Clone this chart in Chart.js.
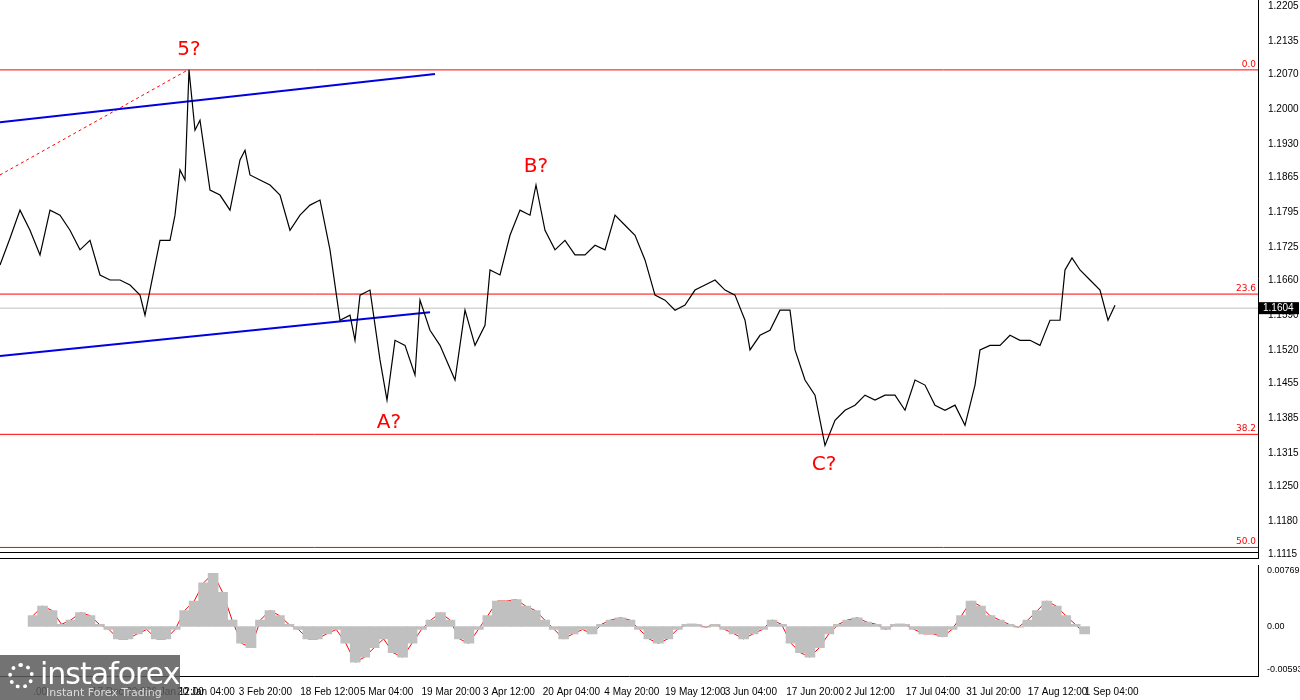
<!DOCTYPE html>
<html>
<head>
<meta charset="utf-8">
<script src="https://cdn.jsdelivr.net/npm/chart.js@4.4.1/dist/chart.umd.min.js"></script>
<style>
  body { margin: 0; background: #fff; width: 1300px; height: 700px; overflow: hidden; position: relative; font-family: "DejaVu Sans", sans-serif; }
  #main { position: absolute; left: 0; top: -10px; }
  #osc { position: absolute; left: 0; top: 559px; }
  .sep { position: absolute; left: 0; width: 1258px; height: 1px; background: #000; }
  .logo { position: absolute; left: 0; top: 655px; width: 180px; height: 45px; background: rgba(90,90,90,0.85); color: #fff; }
  .logo .t1 { position: absolute; left: 40px; top: 1px; font: 30px "DejaVu Sans", sans-serif; letter-spacing: -1px; }
  .logo .t2 { position: absolute; left: 46px; top: 31px; font: 11px "DejaVu Sans", sans-serif; color: #ddd; }
  .logo .gear { position: absolute; left: 8px; top: 8px; width: 26px; height: 26px; border: 4px dotted #fff; border-radius: 50%; box-sizing: border-box; }
</style>
</head>
<body>
<canvas id="main" width="1300" height="576"></canvas>
<canvas id="osc" width="1300" height="141"></canvas>
<div class="sep" style="top:552px"></div>
<div class="sep" style="top:558px"></div>
<div class="logo"><div class="gear"></div><div class="t1">instaforex</div><div class="t2">Instant Forex Trading</div></div>
<script>
// bar index (roughly one unit per screen column) and close prices
const barIdx = [0,10,20,30,40,50,60,70,80,90,100,110,120,130,140,145,150,160,170,175,180,185,189,195,200,210,220,230,240,245,250,260,270,280,290,300,310,320,330,340,350,355,360,370,380,387,395,405,415,420,430,440,455,465,475,485,490,500,510,520,530,536,545,555,565,575,585,595,605,615,625,635,645,655,665,675,685,695,705,715,725,735,745,750,760,770,780,790,795,805,815,825,835,845,855,865,875,885,895,905,915,925,935,945,955,965,975,980,990,1000,1010,1020,1030,1040,1050,1060,1065,1072,1080,1090,1100,1108,1115];
const closes = [1.1690,1.1743,1.1799,1.1759,1.1710,1.1799,1.1789,1.1759,1.1720,1.1739,1.1670,1.1660,1.1660,1.1650,1.1630,1.1590,1.1640,1.1739,1.1739,1.1789,1.1879,1.1859,1.2078,1.1958,1.1978,1.1839,1.1829,1.1799,1.1899,1.1918,1.1869,1.1859,1.1849,1.1829,1.1759,1.1789,1.1809,1.1819,1.1720,1.1580,1.1590,1.1540,1.1630,1.1640,1.1501,1.1421,1.1540,1.1530,1.1471,1.1620,1.1560,1.1530,1.1461,1.1600,1.1530,1.1570,1.1680,1.1670,1.1749,1.1799,1.1789,1.1849,1.1759,1.1720,1.1739,1.1710,1.1710,1.1729,1.1720,1.1789,1.1769,1.1749,1.1700,1.1630,1.1620,1.1600,1.1610,1.1640,1.1650,1.1660,1.1640,1.1630,1.1580,1.1521,1.1550,1.1560,1.1600,1.1600,1.1521,1.1461,1.1431,1.1331,1.1381,1.1401,1.1411,1.1431,1.1421,1.1431,1.1431,1.1401,1.1461,1.1451,1.1411,1.1401,1.1411,1.1371,1.1451,1.1521,1.1530,1.1530,1.1550,1.1540,1.1540,1.1530,1.1580,1.1580,1.1680,1.1704,1.1680,1.1660,1.1640,1.1580,1.1610];
const lastPrice = 1.1604;

const oscIdx = [0,10,20,30,40,50,60,70,80,90,100,110,120,130,140,150,160,170,180,190,200,210,220,230,240,250,260,270,280,290,300,310,320,330,340,350,360,370,380,390,400,410,420,430,440,450,460,470,480,490,500,510,520,530,540,550,560,570,580,590,600,610,620,630,640,650,660,670,680,690,700,710,720,730,740,750,760,770,780,790,800,810,820,830,840,850,860,870,880,890,900,910,920,930,940,950,960,970,980,990,1000,1010,1020,1030,1040,1050,1060,1070,1080,1090,1100,1110];
const oscValues = [0.0015,0.0028,0.0022,0.0003,0.0009,0.0019,0.0015,0.0003,-0.0004,-0.0017,-0.0017,-0.0010,-0.0004,-0.0017,-0.0017,-0.0004,0.0022,0.0035,0.0060,0.0073,0.0047,0.0009,-0.0023,-0.0029,0.0009,0.0022,0.0015,0.0003,-0.0004,-0.0017,-0.0017,-0.0010,-0.0004,-0.0023,-0.0049,-0.0042,-0.0029,-0.0017,-0.0036,-0.0042,-0.0023,-0.0004,0.0009,0.0019,0.0009,-0.0017,-0.0023,-0.0004,0.0015,0.0035,0.0035,0.0037,0.0028,0.0022,0.0009,-0.0004,-0.0017,-0.0010,-0.0004,-0.0010,0.0003,0.0009,0.0012,0.0009,-0.0004,-0.0017,-0.0023,-0.0017,-0.0004,0.0003,0.0003,-0.0001,0.0003,-0.0004,-0.0010,-0.0017,-0.0010,-0.0004,0.0009,0.0003,-0.0023,-0.0036,-0.0042,-0.0029,-0.0010,0.0003,0.0009,0.0012,0.0006,0.0003,-0.0004,0.0003,0.0003,-0.0004,-0.0010,-0.0010,-0.0014,-0.0004,0.0015,0.0035,0.0028,0.0015,0.0009,0.0003,-0.0001,0.0009,0.0022,0.0035,0.0028,0.0015,0.0003,-0.0010];

const priceTicks = [1.2205,1.2135,1.2070,1.2000,1.1930,1.1865,1.1795,1.1725,1.1660,1.1590,1.1520,1.1455,1.1385,1.1315,1.1250,1.1180,1.1115];
const oscTicks = [0.00769,0,-0.00593];
const dateTickIdx = [0,62,125,152,217,282,345,410,475,538,603,667,730,795,858,921,985,1050,1110];
const dateLabels = ['.00','17 Dec 20:00','6 Jan 12:00','20 Jan 04:00','3 Feb 20:00','18 Feb 12:00','5 Mar 04:00','19 Mar 20:00','3 Apr 12:00','20 Apr 04:00','4 May 20:00','19 May 12:00','3 Jun 04:00','17 Jun 20:00','2 Jul 12:00','17 Jul 04:00','31 Jul 20:00','17 Aug 12:00','1 Sep 04:00'];

const fibLevels = [1.2078, 1.1632, 1.1353, 1.1128];
const fibNames = ['0.0', '23.6', '38.2', '50.0'];
const upperChannel = [[0, 1.1974], [435, 1.2070]];
const lowerChannel = [[0, 1.1509], [430, 1.1596]];
const dashedTrend = [[0, 1.1869], [188, 1.2078]];
const waveLabels = [['5?', 189, 1.2117], ['B?', 536, 1.1885], ['A?', 389, 1.1375], ['C?', 824, 1.1292]];

const X_MAX = 1258;
Chart.defaults.animation = false;
Chart.defaults.font = { family: 'Liberation Sans', size: 10 };

const pts = (xs, ys) => xs.map((x, i) => ({ x: x, y: ys[i] }));
const seg = (arr) => arr.map(p => ({ x: p[0], y: p[1] }));
const flat = (v) => [{ x: 0, y: v }, { x: X_MAX, y: v }];
const lineDs = (data, color, width, dash) => ({ type: 'line', data: data, borderColor: color, borderWidth: width, borderDash: dash || [], pointRadius: 0, fill: false });

const mainLabels = {
  id: 'mainLabels',
  afterDraw(chart) {
    const { ctx, scales: { x, y } } = chart;
    ctx.save();
    ctx.fillStyle = '#f00';
    ctx.font = '20px "DejaVu Sans"';
    ctx.textAlign = 'center';
    ctx.textBaseline = 'middle';
    waveLabels.forEach(w => ctx.fillText(w[0], x.getPixelForValue(w[1]), y.getPixelForValue(w[2])));
    ctx.font = '9px "DejaVu Sans"';
    ctx.textAlign = 'right';
    ctx.textBaseline = 'bottom';
    fibLevels.forEach((v, i) => ctx.fillText(fibNames[i], chart.chartArea.right - 2, y.getPixelForValue(v) - 1));
    const py = y.getPixelForValue(lastPrice);
    ctx.fillStyle = '#000';
    ctx.fillRect(chart.chartArea.right + 1, py - 6, 40, 12);
    ctx.fillStyle = '#fff';
    ctx.font = '10px "Liberation Sans"';
    ctx.textAlign = 'left';
    ctx.textBaseline = 'middle';
    ctx.fillText(lastPrice.toFixed(4), chart.chartArea.right + 5, py);
    ctx.restore();
  }
};

new Chart(document.getElementById('main'), {
  type: 'line',
  data: {
    datasets: [
      lineDs(pts(barIdx, closes), '#000', 1.2),
      lineDs(flat(lastPrice), '#c0c0c0', 1),
      ...fibLevels.map(v => lineDs(flat(v), '#f00', 1)),
      lineDs(seg(upperChannel), '#0000e0', 2),
      lineDs(seg(lowerChannel), '#0000e0', 2),
      lineDs(seg(dashedTrend), '#f00', 1, [3, 3])
    ]
  },
  options: {
    responsive: false,
    layout: { padding: 0 },
    plugins: { legend: { display: false }, tooltip: { enabled: false } },
    scales: {
      x: { type: 'linear', min: 0, max: X_MAX, display: false },
      y: {
        position: 'right', min: 1.1107, max: 1.2221,
        afterFit(s) { s.width = 42; },
        afterBuildTicks(s) { s.ticks = priceTicks.map(v => ({ value: v })); },
        grid: { display: false },
        border: { color: '#000' },
        ticks: { color: '#000', padding: 2, callback: v => v.toFixed(4) }
      }
    }
  },
  plugins: [mainLabels]
});

new Chart(document.getElementById('osc'), {
  data: {
    datasets: [
      { type: 'bar', data: pts(oscIdx, oscValues), backgroundColor: '#c0c0c0', barThickness: 10 },
      lineDs(pts(oscIdx, oscValues), '#f00', 1)
    ]
  },
  options: {
    responsive: false,
    layout: { padding: { left: 0, right: 0, top: 2, bottom: 0 } },
    plugins: { legend: { display: false }, tooltip: { enabled: false } },
    scales: {
      x: {
        type: 'linear', min: 0, max: X_MAX,
        afterBuildTicks(s) { s.ticks = dateTickIdx.map(v => ({ value: v })); },
        grid: { display: false },
        border: { color: '#000' },
        ticks: { color: '#000', align: 'start', maxRotation: 0, autoSkip: false, padding: 2,
          callback: (v) => dateLabels[dateTickIdx.indexOf(v)] }
      },
      y: {
        position: 'right', min: -0.0068, max: 0.0084,
        afterFit(s) { s.width = 42; },
        afterBuildTicks(s) { s.ticks = oscTicks.map(v => ({ value: v })); },
        grid: { display: false },
        border: { color: '#000' },
        ticks: { color: '#000', padding: 1, font: { size: 9 }, callback: v => v === 0 ? '0.00' : v.toFixed(5) }
      }
    }
  }
});
</script>
</body>
</html>
